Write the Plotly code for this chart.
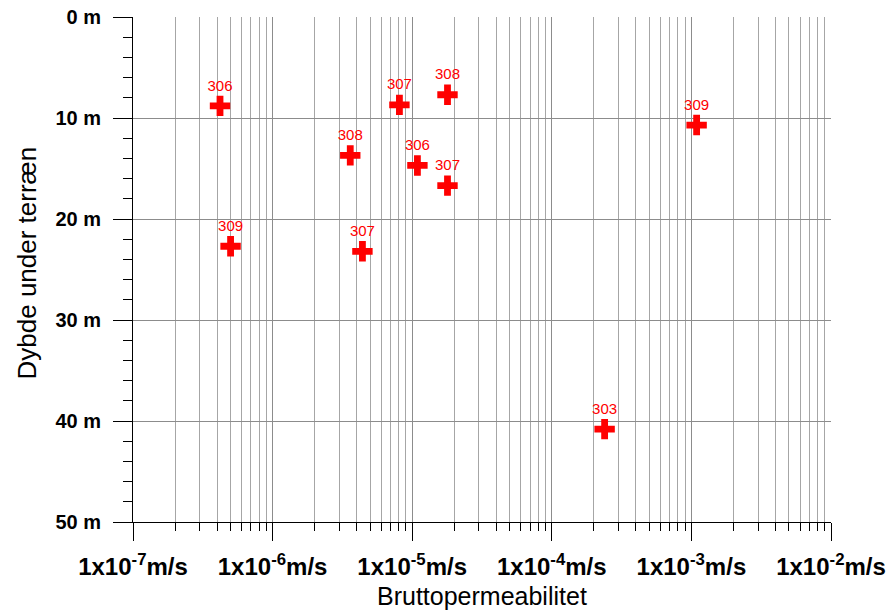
import plotly.graph_objects as go

# Data
boreholes = ["306", "307", "308", "308", "306", "307", "309", "307", "309", "303"]
permeability = [4.2e-7, 8.1e-6, 1.79e-5, 3.6e-6, 1.09e-5, 1.79e-5, 5.0e-7, 4.4e-6, 1.09e-3, 2.39e-4]
depth = [8.8, 8.7, 7.7, 13.7, 14.7, 16.7, 22.7, 23.2, 10.7, 40.8]

x_exponents = [-7, -6, -5, -4, -3, -2]
x_tickvals = [10.0 ** e for e in x_exponents]
x_ticktext = [f"<b>1x10<sup>{e}</sup>m/s</b>" for e in x_exponents]
x_minor = [m * 10.0 ** e for e in x_exponents[:-1] for m in range(2, 10)]
y_tickvals = [0, 10, 20, 30, 40, 50]
y_ticktext = [f"<b>{v} m</b>" for v in y_tickvals]

FONT = "Liberation Sans, Arial, sans-serif"

fig = go.Figure()
fig.add_trace(go.Scatter(
    x=permeability, y=depth, text=boreholes,
    mode="markers+text", textposition="top center",
    marker=dict(symbol="cross", size=17, color="#ff0000", line=dict(width=0)),
    textfont=dict(family=FONT, size=15, color="#ff0000"),
    cliponaxis=False, showlegend=False,
))

fig.update_layout(
    width=895, height=616,
    margin=dict(l=133, r=64, t=17, b=94),
    paper_bgcolor="white", plot_bgcolor="white",
    font=dict(family=FONT, color="black"),
    xaxis=dict(
        type="log", range=[-7, -2], automargin=False,
        tickmode="array", tickvals=x_tickvals, ticktext=x_ticktext,
        tickfont=dict(family=FONT, size=24, color="black"),
        ticks="outside", ticklen=18, tickcolor="black", tickwidth=1,
        showline=True, linecolor="black", linewidth=1,
        showgrid=True, gridcolor="#8c8c8c", gridwidth=1,
        zeroline=False, ticklabelstandoff=5,
        minor=dict(tickmode="array", tickvals=x_minor, ticks="outside", ticklen=8,
                   tickcolor="black", showgrid=True, gridcolor="#a6a6a6", gridwidth=1),
    ),
    yaxis=dict(
        range=[50, 0], automargin=False,
        tickmode="array", tickvals=y_tickvals, ticktext=y_ticktext,
        tickfont=dict(family=FONT, size=20, color="black"),
        ticks="outside", ticklen=19, tickcolor="black", tickwidth=1,
        showline=True, linecolor="black", linewidth=1,
        showgrid=True, gridcolor="#8c8c8c", gridwidth=1,
        zeroline=False, ticklabelstandoff=8,
        minor=dict(dtick=2, ticks="outside", ticklen=9, tickcolor="black", showgrid=False),
    ),
    annotations=[
        dict(text="Bruttopermeabilitet", xref="paper", yref="paper", x=0.5, y=0,
             xanchor="center", yanchor="top", yshift=-58, showarrow=False,
             font=dict(family=FONT, size=25, color="black")),
        dict(text="Dybde under terræn", xref="paper", yref="paper", x=0, y=0.5,
             xanchor="center", yanchor="middle", xshift=-107, yshift=6, textangle=-90,
             showarrow=False, font=dict(family=FONT, size=26, color="black")),
    ],
)

fig.write_html("out.html")
